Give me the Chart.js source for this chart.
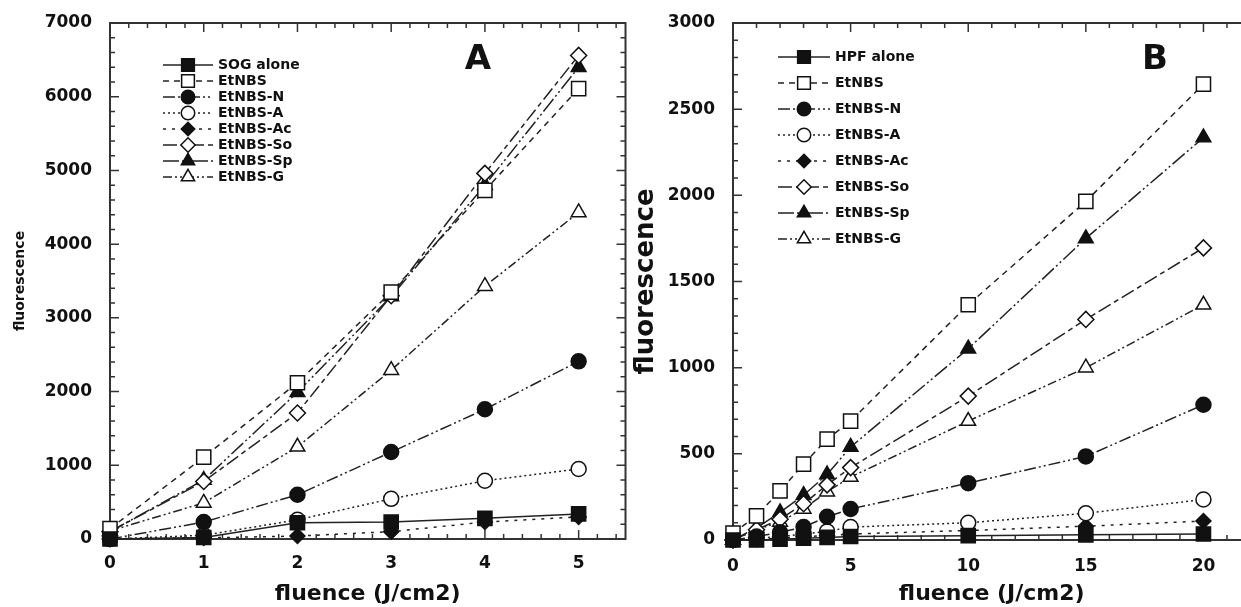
<!DOCTYPE html>
<html>
<head>
<meta charset="utf-8">
<script src="https://cdn.jsdelivr.net/npm/chart.js@4"></script>
<style>
  html, body { margin: 0; padding: 0; background: #fff; overflow: hidden; }
  body { width: 1241px; height: 607px; position: relative; }
  .panel { position: absolute; top: 0; }
  #pa { left: 0; }
  #pb { left: 630px; }
</style>
</head>
<body>
<div class="panel" id="pa"><canvas id="chartA" width="637" height="607"></canvas></div>
<div class="panel" id="pb"><canvas id="chartB" width="632" height="607"></canvas></div>
<script>
// panel A: fluence 0..5
const fluenceA = [0, 1, 2, 3, 4, 5];
const sogAlone = [0, 20, 220, 230, 280, 340];
const etnbsA   = [140, 1110, 2120, 3350, 4730, 6110];
const etnbsNA  = [0, 230, 600, 1180, 1760, 2410];
const etnbsAA  = [0, 50, 260, 545, 790, 950];
const etnbsAcA = [0, 15, 40, 100, 230, 300];
const etnbsSoA = [100, 780, 1710, 3300, 4960, 6560];
const etnbsSpA = [100, 800, 1990, 3290, 4800, 6400];
const etnbsGA  = [110, 490, 1250, 2290, 3430, 4430];

// panel B: fluence 0..20
const fluenceB = [0, 1, 2, 3, 4, 5, 10, 15, 20];
const hpfAlone = [0, 0, 5, 10, 15, 20, 25, 30, 35];
const etnbsB   = [40, 140, 285, 440, 585, 690, 1365, 1965, 2645];
const etnbsNB  = [0, 20, 45, 75, 135, 180, 330, 485, 785];
const etnbsAB  = [0, 10, 20, 35, 50, 75, 100, 155, 235];
const etnbsAcB = [0, 5, 10, 20, 25, 35, 55, 80, 110];
const etnbsSoB = [0, 60, 120, 210, 320, 420, 835, 1280, 1695];
const etnbsSpB = [0, 70, 160, 260, 380, 540, 1110, 1750, 2335];
const etnbsGB  = [0, 60, 105, 180, 280, 365, 690, 1000, 1365];

const xTicksA = [0, 1, 2, 3, 4, 5];
const yTicksA = [0, 1000, 2000, 3000, 4000, 5000, 6000, 7000];
const xTicksB = [0, 5, 10, 15, 20];
const yTicksB = [0, 500, 1000, 1500, 2000, 2500, 3000];

const FONT = "'DejaVu Sans', sans-serif";
const INK = '#111';

const styles = {
  alone: { pointStyle: 'rect', fill: INK, dash: [], r: 10 },
  etnbs: { pointStyle: 'rect', fill: '#fff', dash: [6, 5], r: 10 },
  n:     { pointStyle: 'circle', fill: INK, dash: [12, 3, 2, 3, 2, 3], r: 7.5 },
  a:     { pointStyle: 'circle', fill: '#fff', dash: [2, 3], r: 7.5 },
  ac:    { pointStyle: 'rectRot', fill: INK, dash: [3, 6], r: 7.5 },
  so:    { pointStyle: 'rectRot', fill: '#fff', dash: [14, 4, 5, 4], r: 8 },
  sp:    { pointStyle: 'triangle', fill: INK, dash: [16, 3, 2, 3, 2, 3], r: 8.5 },
  g:     { pointStyle: 'triangle', fill: '#fff', dash: [9, 3, 2, 3, 2, 3], r: 8.5 }
};

function series(label, xs, ys, key) {
  const s = styles[key];
  return {
    label,
    data: xs.map((x, i) => ({ x, y: ys[i] })),
    borderColor: '#222',
    borderWidth: 1.5,
    borderDash: s.dash,
    pointStyle: s.pointStyle,
    pointRadius: s.r,
    pointHoverRadius: s.r,
    pointBackgroundColor: s.fill,
    pointBorderColor: INK,
    pointBorderWidth: 1.5,
    tension: 0,
    clip: false
  };
}

const framePlugin = {
  id: 'frame',
  beforeDatasetsDraw(chart, args, o) {
    const { ctx, chartArea: a, scales: { x, y } } = chart;
    ctx.save();
    ctx.strokeStyle = '#333';
    ctx.lineWidth = 1.5;
    const isMajor = (v, list) => list.some(t => Math.abs(t - v) < 1e-6);
    for (let v = x.min; v <= x.max + 1e-6; v += o.xMinor) {
      const px = x.getPixelForValue(v);
      const len = isMajor(v, o.xMajor) ? 9 : 5;
      ctx.beginPath();
      ctx.moveTo(px, a.bottom); ctx.lineTo(px, a.bottom - len);
      ctx.moveTo(px, a.top); ctx.lineTo(px, a.top + len);
      ctx.stroke();
    }
    for (let v = y.min; v <= y.max + 1e-6; v += o.yMinor) {
      const py = y.getPixelForValue(v);
      const len = isMajor(v, o.yMajor) ? 9 : 5;
      ctx.beginPath();
      ctx.moveTo(a.left, py); ctx.lineTo(a.left + len, py);
      ctx.moveTo(a.right, py); ctx.lineTo(a.right - len, py);
      ctx.stroke();
    }
    ctx.lineWidth = 2;
    ctx.strokeRect(a.left, a.top, a.right - a.left, a.bottom - a.top);
    ctx.fillStyle = INK;
    ctx.font = 'bold 34px ' + FONT;
    ctx.textAlign = 'center';
    ctx.textBaseline = 'middle';
    ctx.fillText(o.tag, o.tagX, o.tagY);
    ctx.restore();
  }
};

const legendPlugin = {
  id: 'inLegend',
  afterDatasetsDraw(chart, args, o) {
    const ctx = chart.ctx;
    chart.data.datasets.forEach((ds, i) => {
      const y = o.y + i * o.gap;
      ctx.save();
      ctx.strokeStyle = ds.borderColor;
      ctx.lineWidth = ds.borderWidth;
      ctx.setLineDash(ds.borderDash);
      ctx.beginPath();
      ctx.moveTo(o.x, y);
      ctx.lineTo(o.x + o.len, y);
      ctx.stroke();
      ctx.setLineDash([]);
      ctx.fillStyle = ds.pointBackgroundColor;
      ctx.strokeStyle = ds.pointBorderColor;
      ctx.lineWidth = ds.pointBorderWidth;
      Chart.helpers.drawPoint(ctx, {
        pointStyle: ds.pointStyle, radius: ds.pointRadius * 0.9,
        borderWidth: ds.pointBorderWidth, rotation: 0
      }, o.x + o.len / 2, y);
      ctx.fillStyle = INK;
      ctx.font = 'bold 14px ' + FONT;
      ctx.textAlign = 'left';
      ctx.textBaseline = 'middle';
      ctx.fillText(ds.label, o.x + o.len + 5, y);
      ctx.restore();
    });
  }
};

function makeChart(id, cfg) {
  const fixed = (w, h) => scale => {
    if (w) scale.width = w;
    if (h) scale.height = h;
    scale.paddingTop = 0; scale.paddingBottom = 0;
    scale.paddingLeft = 0; scale.paddingRight = 0;
  };
  return new Chart(document.getElementById(id), {
    type: 'line',
    data: { datasets: cfg.datasets },
    options: {
      responsive: false,
      animation: false,
      events: [],
      layout: { padding: { top: 23, right: cfg.right, left: 0, bottom: 0 } },
      plugins: {
        legend: { display: false },
        tooltip: { enabled: false },
        frame: cfg.frame,
        inLegend: cfg.legend
      },
      scales: {
        x: {
          type: 'linear', min: cfg.xMin, max: cfg.xMax,
          grid: { display: false }, border: { display: false },
          afterBuildTicks: s => { s.ticks = cfg.xTicks.map(v => ({ value: v })); },
          afterFit: fixed(0, cfg.xH),
          ticks: { color: INK, font: { family: FONT, size: 17, weight: 'bold' }, padding: cfg.xPad, maxRotation: 0, callback: v => String(v) },
          title: { display: true, text: 'fluence (J/cm2)', color: INK, font: { family: FONT, size: 22, weight: 'bold' }, padding: { top: 0, bottom: 0 } }
        },
        y: {
          type: 'linear', min: cfg.yMin, max: cfg.yMax,
          grid: { display: false }, border: { display: false },
          afterBuildTicks: s => { s.ticks = cfg.yTicks.map(v => ({ value: v })); },
          afterFit: fixed(cfg.yW, 0),
          ticks: { color: INK, font: { family: FONT, size: 17, weight: 'bold' }, padding: 10, callback: v => String(v) },
          title: { display: true, text: 'fluorescence', color: INK, font: { family: FONT, size: cfg.yTitleSize, weight: 'bold' }, padding: { top: cfg.yTitlePad, bottom: 0 } }
        }
      }
    },
    plugins: [framePlugin, legendPlugin]
  });
}

makeChart('chartA', {
  datasets: [
    series('SOG alone', fluenceA, sogAlone, 'alone'),
    series('EtNBS', fluenceA, etnbsA, 'etnbs'),
    series('EtNBS-N', fluenceA, etnbsNA, 'n'),
    series('EtNBS-A', fluenceA, etnbsAA, 'a'),
    series('EtNBS-Ac', fluenceA, etnbsAcA, 'ac'),
    series('EtNBS-So', fluenceA, etnbsSoA, 'so'),
    series('EtNBS-Sp', fluenceA, etnbsSpA, 'sp'),
    series('EtNBS-G', fluenceA, etnbsGA, 'g')
  ],
  xMin: 0, xMax: 5.5, yMin: 0, yMax: 7000,
  xTicks: xTicksA, yTicks: yTicksA,
  right: 5, xH: 68, yW: 110, xPad: 6,
  yTitleSize: 14, yTitlePad: 12,
  frame: { xMinor: 0.2, xMajor: xTicksA, yMinor: 200, yMajor: yTicksA, tag: 'A', tagX: 478, tagY: 60 },
  legend: { x: 163, y: 65, gap: 16, len: 50 }
});

makeChart('chartB', {
  datasets: [
    series('HPF alone', fluenceB, hpfAlone, 'alone'),
    series('EtNBS', fluenceB, etnbsB, 'etnbs'),
    series('EtNBS-N', fluenceB, etnbsNB, 'n'),
    series('EtNBS-A', fluenceB, etnbsAB, 'a'),
    series('EtNBS-Ac', fluenceB, etnbsAcB, 'ac'),
    series('EtNBS-So', fluenceB, etnbsSoB, 'so'),
    series('EtNBS-Sp', fluenceB, etnbsSpB, 'sp'),
    series('EtNBS-G', fluenceB, etnbsGB, 'g')
  ],
  xMin: 0, xMax: 22, yMin: 0, yMax: 3000,
  xTicks: xTicksB, yTicks: yTicksB,
  right: 6, xH: 67, yW: 103, xPad: 8,
  yTitleSize: 26, yTitlePad: 1,
  frame: { xMinor: 1, xMajor: xTicksB, yMinor: 100, yMajor: yTicksB, tag: 'B', tagX: 525, tagY: 60 },
  legend: { x: 148, y: 57, gap: 26, len: 52 }
});
</script>
</body>
</html>
